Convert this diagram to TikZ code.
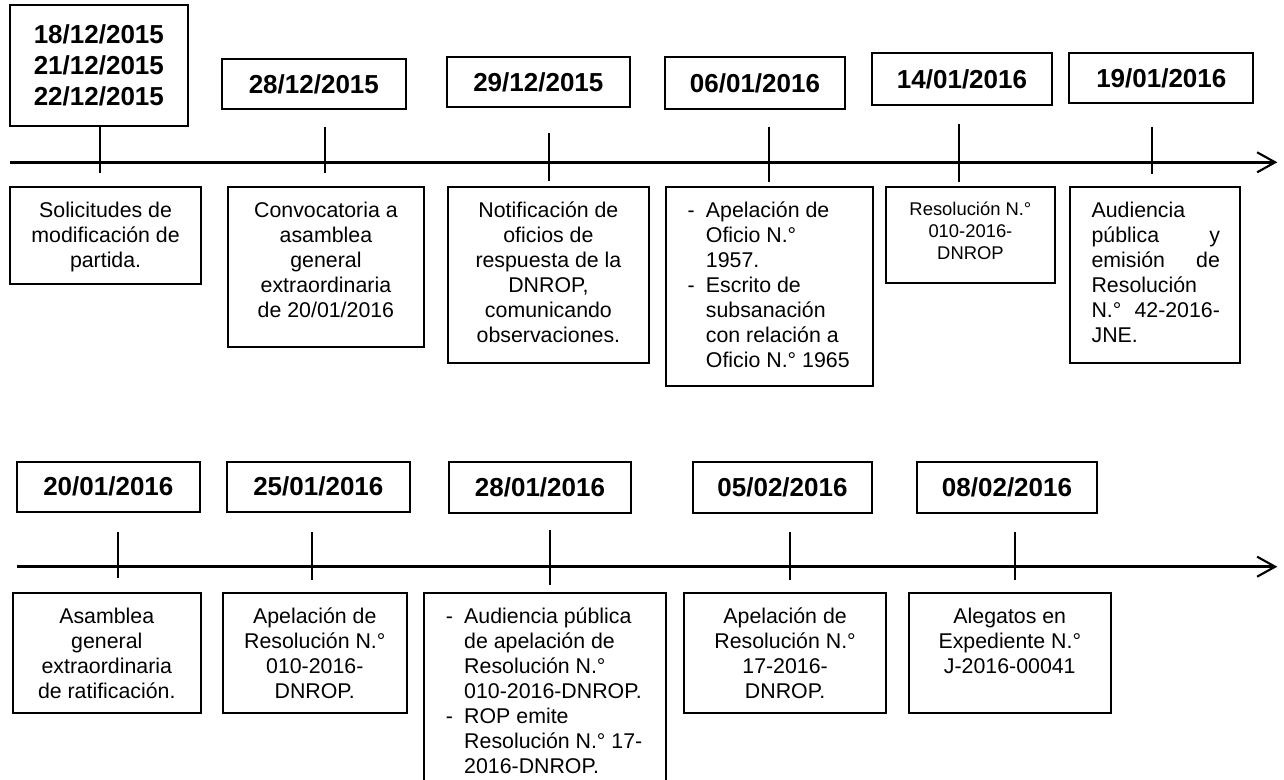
\documentclass[tikz,border=0pt]{standalone}
\usepackage{fontspec}
\setmainfont{Liberation Sans}
\usetikzlibrary{arrows.meta}
\newlength\upx \setlength\upx{0.75pt}
\newcommand\bodyfnt{\fontsize{16pt}{18.75pt}\selectfont}
\newcommand\smallfnt{\fontsize{13.8pt}{16.5pt}\selectfont}
\newcommand\datefnt{\fontsize{19.5pt}{23.3pt}\selectfont\bfseries}
\newcommand\dbox[6]{\node[datebox, minimum width={(#4-#2)*0.75pt}, minimum height={(#5-#3)*0.75pt}] (#1) at ({(#2+#4)/2},{(#3+#5)/2}) {#6};}
\newcommand\ebox[8]{\node[evbox] (#1) at (#2,#3) {\parbox[c][\dimexpr#5\upx-#3\upx\relax][t]{\dimexpr#4\upx-#2\upx\relax}{#6\rule{0pt}{#7}#8}};}
\newcommand\tick[4]{\coordinate (#1a) at (#2,#3); \coordinate (#1b) at (#2,#4); \draw[tickln] (#1a) -- (#1b);}
\newcommand\dsh{\makebox[13.7pt][l]{-}}
\newcommand\ind{\hspace*{13.7pt}}
\newcommand\listset{\bodyfnt\raggedright\leftskip=16.3pt\relax}
\newcommand\ctr{\bodyfnt\centering}
\begin{document}
\begin{tikzpicture}[x=0.75pt,y=-0.75pt,
  datebox/.style={draw, line width=1.4pt, inner sep=0pt, align=center, font=\datefnt},
  evbox/.style={draw, line width=1.4pt, inner sep=0pt, anchor=north west},
  tickln/.style={line width=1.4pt},
  axis/.style={line width=2pt, -{Straight Barb[length=13.5pt,width=15pt,line width=1.6pt]}}]
\useasboundingbox (0,0) rectangle (1284,780);

% ---------- row 1 ----------
\coordinate (l1s) at (10,162.3);
\coordinate (l1e) at (1277.3,162.3);
\draw[axis] (l1s) -- (l1e);

\dbox{d1}{10}{5}{187.7}{125.7}{18/12/2015\\21/12/2015\\22/12/2015}
\dbox{d2}{222}{59.3}{405.7}{109}{28/12/2015}
\dbox{d3}{446.7}{56.7}{630}{107.3}{29/12/2015}
\dbox{d4}{665}{57.3}{845}{109.3}{06/01/2016}
\dbox{d5}{871.7}{52.7}{1052.3}{105}{14/01/2016}
\dbox{d6}{1069.3}{52.7}{1253.3}{103.3}{19/01/2016}

\tick{t1}{100}{126}{173}
\tick{t2}{325}{127}{173}
\tick{t3}{549.3}{133.3}{180.7}
\tick{t4}{769}{126.7}{181.7}
\tick{t5}{959.3}{124}{181.7}
\tick{t6}{1151.7}{126.7}{174}

\ebox{e1}{9.3}{186}{200}{282.7}{\ctr}{23pt}{Solicitudes de\\modificación de\\partida.}
\ebox{e2}{226.7}{186}{423.3}{345.7}{\ctr}{23pt}{Convocatoria a\\asamblea\\general\\extraordinaria\\de 20/01/2016}
\ebox{e3}{446.7}{186}{648.3}{361.7}{\ctr}{23pt}{Notificación de\\oficios de\\respuesta de la\\DNROP,\\comunicando\\observaciones.}
\ebox{e4}{665}{186}{872.3}{385}{\listset}{23pt}{\dsh Apelación de\\\ind Oficio N.°\\\ind 1957.\\\dsh Escrito de\\\ind subsanación\\\ind con relación a\\\ind Oficio N.° 1965}
\ebox{e5}{885}{186}{1054}{282}{\smallfnt\centering}{21.75pt}{Resolución N.°\\010-2016-\\DNROP}
\ebox{e6}{1069.3}{186}{1239}{361.7}{\bodyfnt\leftskip=16pt\rightskip=15pt\relax}{23pt}{Audiencia\\pública\hfill y\\emisión\hfill de\\Resolución\\N.°\hfill 42-2016-\\JNE.}

% ---------- row 2 ----------
\coordinate (l2s) at (16.7,566.7);
\coordinate (l2e) at (1277.3,566.7);
\draw[axis] (l2s) -- (l2e);

\dbox{f1}{16.7}{461.7}{200}{511.7}{20/01/2016}
\dbox{f2}{226.7}{461.7}{410}{511.7}{25/01/2016}
\dbox{f3}{449.3}{461.7}{630.7}{513.3}{28/01/2016}
\dbox{f4}{692.7}{461.7}{872.3}{513.3}{05/02/2016}
\dbox{f5}{916.7}{461.7}{1097.3}{513.3}{08/02/2016}

\tick{u1}{118.3}{531.7}{578.3}
\tick{u2}{311.7}{531.7}{580}
\tick{u3}{550}{530}{585}
\tick{u4}{790}{531.7}{580}
\tick{u5}{1015}{531.7}{580}

\ebox{g1}{11.7}{591.7}{200}{711.7}{\ctr}{23.25pt}{Asamblea\\general\\extraordinaria\\de ratificación.}
\ebox{g2}{221.7}{591.7}{406}{711.7}{\ctr}{23.25pt}{Apelación de\\Resolución N.°\\010-2016-\\DNROP.}
\ebox{g3}{423.3}{591.7}{665}{782}{\listset}{23.25pt}{\dsh Audiencia pública\\\ind de apelación de\\\ind Resolución N.°\\\ind 010-2016-DNROP.\\\dsh ROP emite\\\ind Resolución N.° 17-\\\ind 2016-DNROP.}
\ebox{g4}{683.3}{591.7}{885}{711.7}{\ctr}{23.25pt}{Apelación de\\Resolución N.°\\17-2016-\\DNROP.}
\ebox{g5}{907.7}{591.7}{1110}{711.7}{\ctr}{23.25pt}{Alegatos en\\Expediente N.°\\J-2016-00041}
\end{tikzpicture}
\end{document}
